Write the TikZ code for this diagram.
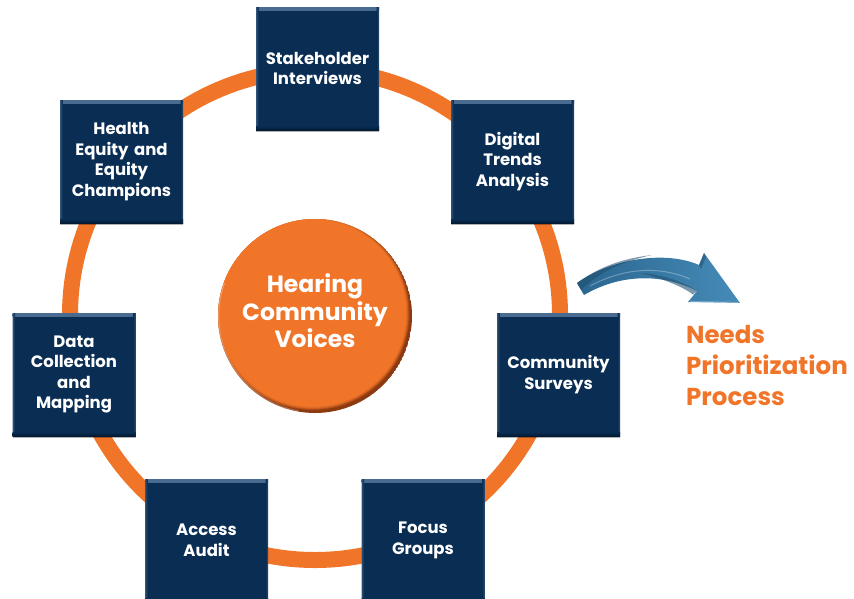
\documentclass[tikz,border=0pt]{standalone}
\usepackage{fontspec}
\setmainfont{Poppins}
\usetikzlibrary{shadows}
\definecolor{navy}{HTML}{0A2D54}
\definecolor{navyedge}{HTML}{4A6C90}
\definecolor{navydark}{HTML}{021A33}
\definecolor{ringorange}{HTML}{F07529}
\definecolor{orangedark}{HTML}{8E3A10}
\definecolor{arrowdark}{HTML}{2A6690}
\definecolor{arrowlight}{HTML}{468BB8}
\tikzset{
  stepbox/.style={rectangle, minimum width=123pt, minimum height=123pt,
    inner sep=0pt, fill=navy, text=white, align=center, text width=118pt,
    font=\bfseries\fontsize{16.5}{20.5}\selectfont,
    path picture={
      \fill[top color=navyedge, bottom color=navy]
        (path picture bounding box.north west) rectangle
        ([yshift=-3.5pt]path picture bounding box.north east);
      \fill[left color=navyedge!60!navy, right color=navy]
        (path picture bounding box.north west) rectangle
        ([xshift=2.5pt]path picture bounding box.south west);
      \fill[right color=navyedge!50!navy, left color=navy]
        ([xshift=-2.5pt]path picture bounding box.north east) rectangle
        (path picture bounding box.south east);
      \fill[bottom color=navydark, top color=navy]
        (path picture bounding box.south west) rectangle
        ([yshift=4pt]path picture bounding box.south east);
    },
    drop shadow={shadow xshift=0pt, shadow yshift=-2pt, opacity=0.3, fill=black}},
  ringline/.style={draw=ringorange, line width=16pt},
  hubtext/.style={text=white, align=center,
    font=\bfseries\fontsize{23.5}{27.5}\selectfont},
  outtext/.style={text=ringorange, align=left, anchor=north west,
    font=\bfseries\fontsize{24.5}{31}\selectfont, inner sep=0pt}
}
\begin{document}
\begin{tikzpicture}[x=1pt,y=-1pt]
\useasboundingbox (0,0) rectangle (854,598);
\clip (0,0) rectangle (854,598);
% ring
\coordinate (ctr) at (315,315);
\draw[ringline] (ctr) circle[radius=245];
% hub
\begin{scope}
  \clip (315,316) circle[radius=97];
  \fill[orangedark] (315,316) circle[radius=97];
  \foreach \r/\o in {97/0.3,96/0.45,95/0.6,94/0.8,93.5/1}{
    \fill[ringorange, opacity=\o] (312.5,313) circle[radius=\r];
  }
  \draw[white, opacity=0.25, line width=1.2pt] (315,316) ++(100:96.3) arc[start angle=100, end angle=200, radius=96.3];
\end{scope}
\node[hubtext] (hub) at (315,311) {Hearing\\Community\\Voices};
% boxes
\node[stepbox] (stake)  at (317.5,68.5)  {Stakeholder\\Interviews};
\node[stepbox] (digi)   at (512.5,161.5) {Digital\\Trends\\Analysis};
\node[stepbox] (health) at (121.5,161.5) {Health\\Equity and\\Equity\\Champions};
\node[stepbox] (data)   at (74,374.5)    {Data\\Collection\\and\\Mapping};
\node[stepbox] (surv)   at (558.5,374.5) {Community\\Surveys};
\node[stepbox] (access) at (206.5,540.5) {Access\\Audit};
\node[stepbox] (focus)  at (423,540.5)   {Focus\\Groups};
% arrow
\coordinate (atail) at (577,283);
\coordinate (atip) at (740,303);
\shade[left color=arrowdark, right color=arrowlight]
  (atail) .. controls (610,259) and (665,250) .. (699,265)
  -- (704,253) -- (atip) -- (688,302) -- (697,291)
  .. controls (660,272) and (618,275) .. (584,295) -- cycle;
\fill[arrowdark!75!black, opacity=0.55]
  (atail) .. controls (600,266) and (625,258) .. (652,255)
  .. controls (625,261) and (600,271) .. (581,290) -- cycle;
\fill[arrowdark!80!black, opacity=0.6]
  (640,273) .. controls (660,274) and (680,280) .. (697,291)
  -- (693,294.5) .. controls (680,285) and (660,278) .. (640,273) -- cycle;
\fill[arrowdark!75!black, opacity=0.5] (699,265) -- (704,253) -- (706,257) -- (701,269) -- cycle;
\draw[white, opacity=0.3, line width=1pt]
  (590,286) .. controls (620,270) and (655,264) .. (690,279);
\draw[white, opacity=0.3, line width=1.2pt] (690,301.5) -- (738,302.5);
% output text
\node[outtext] (needs) at (686,325) {Needs\\Prioritization\\Process};
\end{tikzpicture}
\end{document}
